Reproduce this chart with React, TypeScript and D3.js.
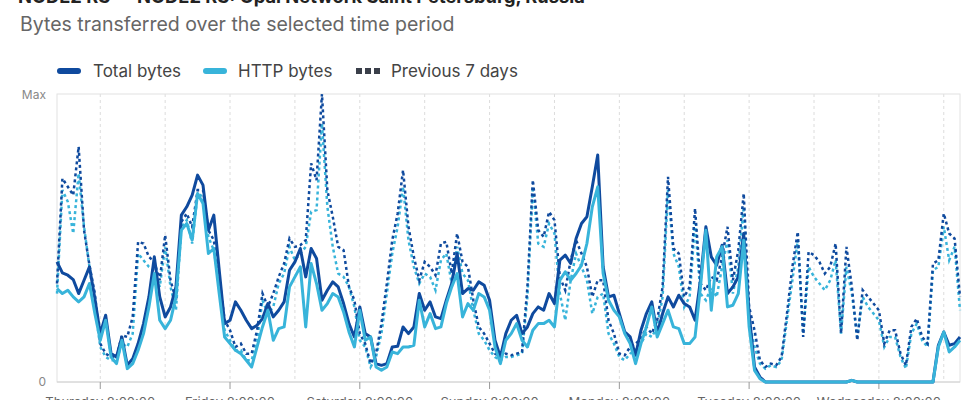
import React from "react";
import * as d3 from "d3";

const TITLE = "NODE2 RS — NODE2 RS: Opal Network Saint Petersburg, Russia";
const SUBTITLE = "Bytes transferred over the selected time period";
const SERIES_NAMES = ["Total bytes", "HTTP bytes", "Previous 7 days"];
const Y_LABELS = ["0", "Max"];
const Y_MAX = 863;
const START = new Date(2023, 5, 1, 0, 0, 0); // a Thursday

const ZERO_RUN_A = new Array(16).fill(0);
const ZERO_RUN_B = new Array(15).fill(0);

const totalBytes: number[] = [
  360, 327, 320, 307, 265, 305, 345, 250, 145, 200,
  85, 75, 135, 50, 70, 115, 175, 255, 375, 255,
  195, 225, 285, 500, 525, 560, 620, 590, 455, 500,
  335, 175, 185, 240, 215, 185, 160,
  170, 190,
  235, 195, 215, 240, 335, 360, 400, 315, 400, 370,
  245, 275, 300, 285, 235, 175, 135, 225, 145, 135,
  55, 50, 55, 105, 107, 165, 145, 165, 265, 215,
  240, 195, 190, 245, 295, 385, 265, 280, 275, 300,
  290, 245, 125, 75, 145, 185, 200, 145, 165, 205,
  225, 215, 265, 235, 365, 380, 355, 430, 475, 495,
  585, 680, 345, 255, 260, 205, 150, 135, 80, 155,
  205, 240, 145, 205, 255, 225, 260, 235, 225, 185,
  305, 465, 375, 350, 410, 265, 285, 315, 445, 205,
  45, 15,
  ...ZERO_RUN_A, 5, ...ZERO_RUN_B,
  110, 150, 110, 115, 135,
];

const httpBytes: number[] = [
  280, 265, 275, 255, 240, 255, 295, 205, 125, 185,
  75, 55, 125, 40, 55, 95, 145, 225, 325, 185,
  160, 185, 255, 455, 475, 425, 565, 535, 385, 400,
  265, 135, 115, 95, 85, 65, 45,
  105, 165,
  215, 125, 160, 165, 285, 315, 345, 165, 355, 295,
  215, 235, 265, 255, 210, 150, 105, 215, 125, 135,
  45, 35, 45, 90, 85, 105, 105, 110, 245, 165,
  205, 160, 165, 235, 285, 325, 195, 235, 215, 265,
  255, 215, 105, 55, 125, 145, 175, 125, 105, 155,
  175, 175, 185, 165, 305, 330, 305, 325, 350, 415,
  525, 585, 325, 245, 215, 195, 145, 115, 55, 115,
  165, 225, 135, 175, 215, 165, 160, 115, 115, 135,
  285, 455, 215, 375, 405, 225, 230, 265, 425, 165,
  35, 10,
  ...ZERO_RUN_A, 5, ...ZERO_RUN_B,
  105, 150, 90, 105, 125,
];

const prevTotalBytes: number[] = [
  295, 610, 585, 560, 705, 455, 350, 265, 115, 85,
  75, 75, 140, 135, 195, 420, 415, 375, 360, 305,
  440, 305, 245, 480, 505, 465, 575, 575, 455, 425,
  315, 185, 155, 105, 115, 85, 85,
  155, 265,
  225, 265, 315, 355, 430, 405, 410, 425, 655, 605,
  863, 575, 495, 405, 395, 285, 245, 145, 115, 55,
  85, 175, 295, 425, 505, 635, 465, 375, 305, 360,
  345, 320, 415, 420, 325, 445, 360, 345, 245, 165,
  145, 115, 85, 75, 85, 80, 85, 90, 285, 605,
  455, 435, 510, 485, 315, 275, 365, 425, 385, 345,
  255, 305, 305, 185, 145, 85, 80, 105, 115, 130,
  165, 145, 185, 285, 615, 400, 385, 255, 285, 520,
  295, 275, 315, 305, 375, 465, 305, 395, 565, 225,
  155, 65, 45, 55, 50, 75, 205, 345, 450, 135,
  390, 380, 360, 325, 345, 415, 145, 405, 285, 125,
  275, 255, 235, 215, 115, 155, 155, 85, 50, 165,
  190, 135, 115, 355, 365, 505, 445, 430, 255,
];

const prevHttpBytes: number[] = [
  265, 575, 540, 445, 625, 465, 345, 225, 105, 75,
  65, 65, 115, 105, 145, 385, 365, 345, 335, 285,
  405, 285, 215, 465, 485, 415, 565, 555, 435, 395,
  295, 155, 125, 95, 95, 65, 65,
  125, 245,
  205, 225, 295, 325, 405, 365, 385, 405, 510, 515,
  775, 525, 405, 325, 315, 285, 225, 125, 105, 45,
  75, 145, 265, 385, 465, 585, 425, 345, 295, 325,
  315, 275, 365, 385, 295, 405, 325, 305, 215, 145,
  125, 95, 75, 65, 75, 75, 80, 85, 255, 585,
  415, 405, 475, 445, 265, 185, 305, 385, 345, 305,
  205, 255, 265, 145, 115, 75, 65, 85, 95, 115,
  145, 135, 165, 255, 575, 385, 345, 225, 255, 475,
  265, 245, 285, 255, 345, 425, 265, 345, 525, 185,
  105, 55, 40, 50, 45, 65, 185, 305, 425, 145,
  345, 315, 295, 275, 305, 365, 145, 345, 265, 135,
  255, 225, 205, 185, 105, 135, 135, 75, 40, 145,
  175, 125, 105, 335, 345, 465, 365, 405, 215,
];

const DARK = "#0f4a9e";
const LIGHT = "#38b4da";
const FONT = "Inter, 'Noto Sans', sans-serif";

const W = 980;
const H = 400;
const M = { left: 57, right: 960, top: 94, bottom: 382 };

export default function App() {
  const hour = 3600 * 1000;
  const times = totalBytes.map((_, i) => new Date(START.getTime() + i * hour));
  const x = d3
    .scaleTime()
    .domain([START, times[times.length - 1]])
    .range([M.left, M.right]);
  const y = d3.scaleLinear().domain([0, Y_MAX]).range([M.bottom, M.top]);

  const line = d3
    .line<number>()
    .x((_, i) => x(times[i]))
    .y((d) => y(d));

  const ticks = d3.range(7).map((k) => new Date(START.getTime() + (8 + 24 * k) * hour));
  const grid = d3.range(14).map((k) => new Date(START.getTime() + (8 + 12 * k) * hour));
  const fmt = d3.timeFormat("%A %-H:%M:%S");

  return (
    <svg width={W} height={H} style={{ position: "absolute", left: 0, top: 0, fontFamily: FONT }}>
      <rect x={0} y={0} width={W} height={H} fill="#fff" />
      <text x={18} y={3} fontSize={18.3} fontWeight={700} fill="#222">
        {TITLE}
      </text>
      <text x={20} y={31} fontSize={19.5} fill="#666">
        {SUBTITLE}
      </text>

      {/* legend */}
      <g>
        <line x1={60} x2={78} y1={71} y2={71} stroke={DARK} strokeWidth={6} strokeLinecap="round" />
        <text x={93} y={77} fontSize={17} fill="#444">{SERIES_NAMES[0]}</text>
        <line x1={206} x2={224} y1={71} y2={71} stroke={LIGHT} strokeWidth={6} strokeLinecap="round" />
        <text x={238} y={77} fontSize={17} fill="#444">{SERIES_NAMES[1]}</text>
        <line x1={356} x2={380} y1={71} y2={71} stroke="#3a3f4a" strokeWidth={6} strokeDasharray="6,3" />
        <text x={391} y={77} fontSize={17} fill="#444">{SERIES_NAMES[2]}</text>
      </g>

      {/* grid */}
      {grid.map((g, i) => (
        <line key={i} x1={x(g)} x2={x(g)} y1={M.top} y2={M.bottom} stroke="#dcdcdc" strokeDasharray="3,3" />
      ))}
      <rect x={M.left} y={M.top} width={M.right - M.left} height={M.bottom - M.top} fill="none" stroke="#e2e2e2" />
      <line x1={M.left} x2={M.right} y1={M.bottom} y2={M.bottom} stroke="#d0d0d0" />

      {/* y labels */}
      <text x={46} y={y(Y_MAX) + 5} fontSize={12} fill="#888" textAnchor="end">{Y_LABELS[1]}</text>
      <text x={46} y={y(0) + 4} fontSize={12} fill="#888" textAnchor="end">{Y_LABELS[0]}</text>

      {/* x ticks */}
      {ticks.map((t, i) => (
        <g key={i}>
          <line x1={x(t)} x2={x(t)} y1={M.bottom} y2={M.bottom + 7} stroke="#999" />
          <text x={x(t)} y={407} fontSize={13} fill="#666" textAnchor="middle">{fmt(t)}</text>
        </g>
      ))}

      {/* lines */}
      <path d={line(prevHttpBytes) || ""} fill="none" stroke={LIGHT} strokeWidth={2.5} strokeDasharray="3,3" />
      <path d={line(prevTotalBytes) || ""} fill="none" stroke={DARK} strokeWidth={2.5} strokeDasharray="3,3" />
      <path d={line(totalBytes) || ""} fill="none" stroke={DARK} strokeWidth={3} strokeLinejoin="round" />
      <path d={line(httpBytes) || ""} fill="none" stroke={LIGHT} strokeWidth={3} strokeLinejoin="round" />
    </svg>
  );
}
